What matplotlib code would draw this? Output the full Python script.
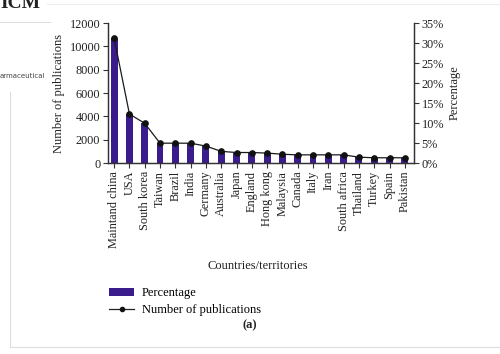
import numpy as np
import matplotlib.pyplot as plt
from matplotlib.lines import Line2D
from matplotlib.patches import Patch

# Publications per country/territory and share of the total
countries = ['Maintand china', 'USA', 'South korea', 'Taiwan', 'Brazil', 'India',
             'Germany', 'Australia', 'Japan', 'England', 'Hong kong', 'Malaysia',
             'Canada', 'Italy', 'Iran', 'South africa', 'Thailand', 'Turkey',
             'Spain', 'Pakistan']
publications = [10700, 4200, 3400, 1700, 1700, 1700, 1450, 1000, 900, 900,
                850, 750, 700, 700, 700, 700, 500, 450, 450, 450]
percentage = [31.2, 12.25, 9.9, 5.0, 5.0, 5.0, 4.2, 2.9, 2.6, 2.6,
              2.5, 2.2, 2.0, 2.0, 2.0, 2.0, 1.5, 1.3, 1.3, 1.3]

bar_color = '#3b1c8c'
serif = 'Liberation Serif'
plt.rcParams['font.family'] = serif

fig = plt.figure(figsize=(5.0, 3.54), dpi=100)
ax = fig.add_axes([0.216, 0.5395, 0.612, 0.3955])
ax2 = ax.twinx()

x = np.arange(len(countries))
ax2.bar(x, percentage, width=0.45, color=bar_color, zorder=1)
ax.plot(x, publications, color='#1a1a1a', lw=0.9, marker='o', ms=3.8,
        mfc='#111111', mec='#111111', zorder=3)
ax.set_zorder(ax2.get_zorder() + 1)
ax.patch.set_visible(False)

ax.set_xlim(-0.4, 19.6)
ax.set_ylim(0, 12000)
ax2.set_ylim(0, 35)
ax.set_yticks(np.arange(0, 12001, 2000))
ax2.set_yticks(np.arange(0, 36, 5))
ax2.set_yticklabels([f'{v}%' for v in range(0, 36, 5)])
ax.set_xticks(x)
ax.set_xticklabels(countries, rotation=90, fontsize=9.8)

for a in (ax, ax2):
    a.spines['top'].set_visible(False)
    for s in a.spines.values():
        s.set_color('#333333')
        s.set_linewidth(0.9)
    a.tick_params(labelsize=8.8, length=3.5, width=0.8, color='#333333',
                  labelcolor='#222222', pad=2)
ax.tick_params(axis='x', pad=2)

ax.set_ylabel('Number of publications', fontsize=9, color='#222222', labelpad=3)
ax2.set_ylabel('Percentage', fontsize=9, color='#222222', labelpad=3)
fig.text(0.516, 0.248, 'Countries/territories', ha='center', va='center',
         fontsize=9, color='#222222')

handles = [Patch(facecolor=bar_color, edgecolor='none'),
           Line2D([], [], color='#222222', lw=0.9, marker='o', ms=3,
                  mfc='#111111', mec='#111111')]
fig.legend(handles, ['Percentage', 'Number of publications'],
           loc='upper left', bbox_to_anchor=(0.208, 0.202), frameon=False,
           fontsize=9, handlelength=2.0, handleheight=0.5, handletextpad=0.6,
           labelspacing=0.35, borderaxespad=0)
fig.text(0.5, 0.08, '(a)', ha='center', va='center', fontsize=9,
         fontweight='bold', color='#222222')

# surrounding page fragments
fig.text(0.0, 0.978, 'ICM', ha='left', va='baseline', fontsize=14,
         fontweight='bold', color='#222222')
fig.text(0.0, 0.785, 'armaceutical', ha='left', va='center', fontsize=5,
         family='DejaVu Sans', color='#444444')
fig.add_artist(Line2D([0.0, 0.1], [0.938, 0.938], color='#dddddd', lw=0.8))
fig.add_artist(Line2D([0.094, 1.0], [0.99, 0.99], color='#eeeeee', lw=0.8))
fig.add_artist(Line2D([0.019, 0.019], [0.02, 0.74], color='#dddddd', lw=0.8))
fig.add_artist(Line2D([0.019, 1.0], [0.02, 0.02], color='#dddddd', lw=0.8))

fig.savefig('out.png', dpi=100)
